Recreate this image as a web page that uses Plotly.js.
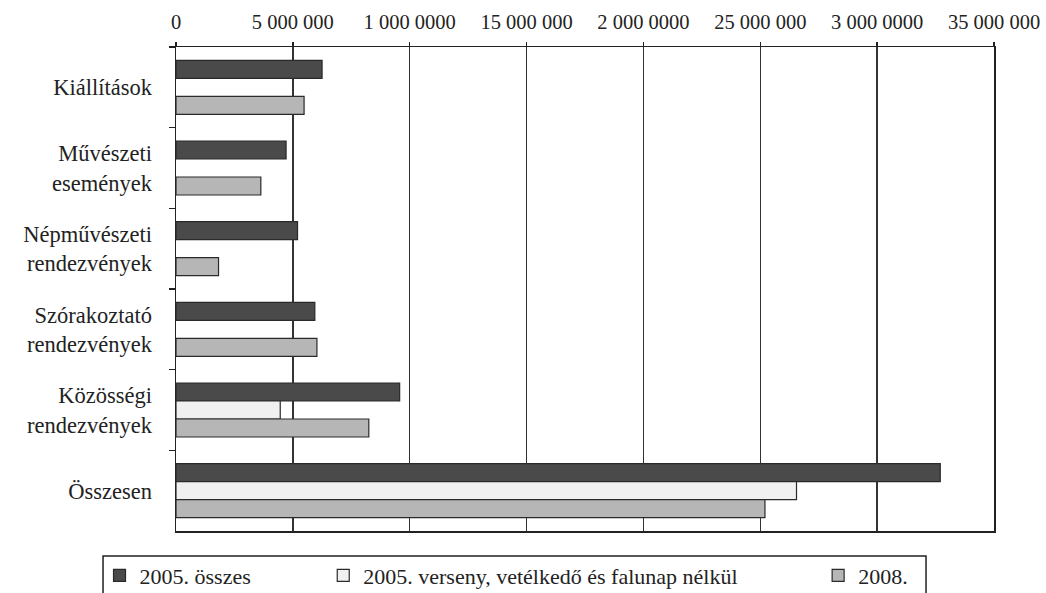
<!DOCTYPE html>
<html>
<head>
<meta charset="utf-8">
<script src="https://cdn.plot.ly/plotly-3.0.1.min.js"></script>
<style>html,body{margin:0;padding:0;background:#fff;}#chart{width:1046px;height:593px;}</style>
</head>
<body>
<div id="chart"></div>
<script>
const categories = ["Kiállítások", "Művészeti<br>események", "Népművészeti<br>rendezvények", "Szórakoztató<br>rendezvények", "Közösségi<br>rendezvények", "Összesen"];
const seriesNames = ["2005. összes", "2005. verseny, vetélkedő és falunap nélkül", "2008."];
const total2005 = [6250000, 4710000, 5200000, 5940000, 9570000, 32700000];
const noContest2005 = [null, null, null, null, 4460000, 26550000];
const year2008 = [5480000, 3630000, 1820000, 6030000, 8250000, 25200000];
const tickValues = [0, 5000000, 10000000, 15000000, 20000000, 25000000, 30000000, 35000000];
const tickLabels = ["0", "5 000 000", "1 000 0000", "15 000 000", "2 000 0000", "25 000 000", "3 000 0000", "35 000 000"];

const colors = ["#4a4a4a", "#f0f0f0", "#b6b6b6"];
const values = [total2005, noContest2005, year2008];
const legends = ["legend", "legend2", "legend3"];
const FONT = "'Liberation Serif', serif";

const traces = values.map((v, i) => ({
  type: "bar",
  orientation: "h",
  name: seriesNames[i],
  y: categories,
  x: v,
  legend: legends[i],
  marker: {color: colors[i], line: {color: "#2a2a2a", width: 1.2}},
  hoverinfo: "x+name"
}));

const legendBase = {orientation: "h", bgcolor: "rgba(0,0,0,0)", borderwidth: 0,
  font: {family: FONT, size: 22, color: "#222"}, yanchor: "middle", xanchor: "left", y: -0.092};

const layout = {
  width: 1046, height: 593,
  margin: {l: 176, r: 52, t: 47, b: 62, autoexpand: false},
  paper_bgcolor: "#fff", plot_bgcolor: "#fff",
  font: {family: FONT, size: 21, color: "#222"},
  barmode: "group", bargap: 0.33, bargroupgap: 0,
  showlegend: true,
  xaxis: {
    side: "top", range: [0, 35000000], tickvals: tickValues, ticktext: tickLabels,
    showgrid: true, gridcolor: "#333", gridwidth: 1.5,
    showline: true, linecolor: "#222", linewidth: 1.5, mirror: true,
    ticks: "outside", ticklen: 4, tickcolor: "#222", tickwidth: 1.5,
    zeroline: false, fixedrange: true, automargin: false,
    ticklabelstandoff: 4,
    tickfont: {family: FONT, size: 20.5, color: "#222"}
  },
  yaxis: {
    type: "category", autorange: "reversed", categoryorder: "array", categoryarray: categories,
    tickson: "boundaries", ticks: "outside", ticklen: 6, tickcolor: "#222", tickwidth: 1.5,
    showline: true, linecolor: "#222", linewidth: 1.5, mirror: true,
    showgrid: false, zeroline: false, fixedrange: true, automargin: false,
    ticklabelstandoff: 18,
    tickfont: {family: FONT, size: 22.5, color: "#222"}
  },
  legend: Object.assign({}, legendBase, {x: -0.0935}),
  legend2: Object.assign({}, legendBase, {x: 0.18}),
  legend3: Object.assign({}, legendBase, {x: 0.785}),
  shapes: [{
    type: "rect", xref: "paper", yref: "paper",
    x0: -0.0892, x1: 0.9169, y0: -0.0517, y1: -0.16,
    line: {color: "#222", width: 1.5}, fillcolor: "rgba(0,0,0,0)", layer: "above"
  }]
};

Plotly.newPlot("chart", traces, layout, {displayModeBar: false, staticPlot: true});
</script>
</body>
</html>
